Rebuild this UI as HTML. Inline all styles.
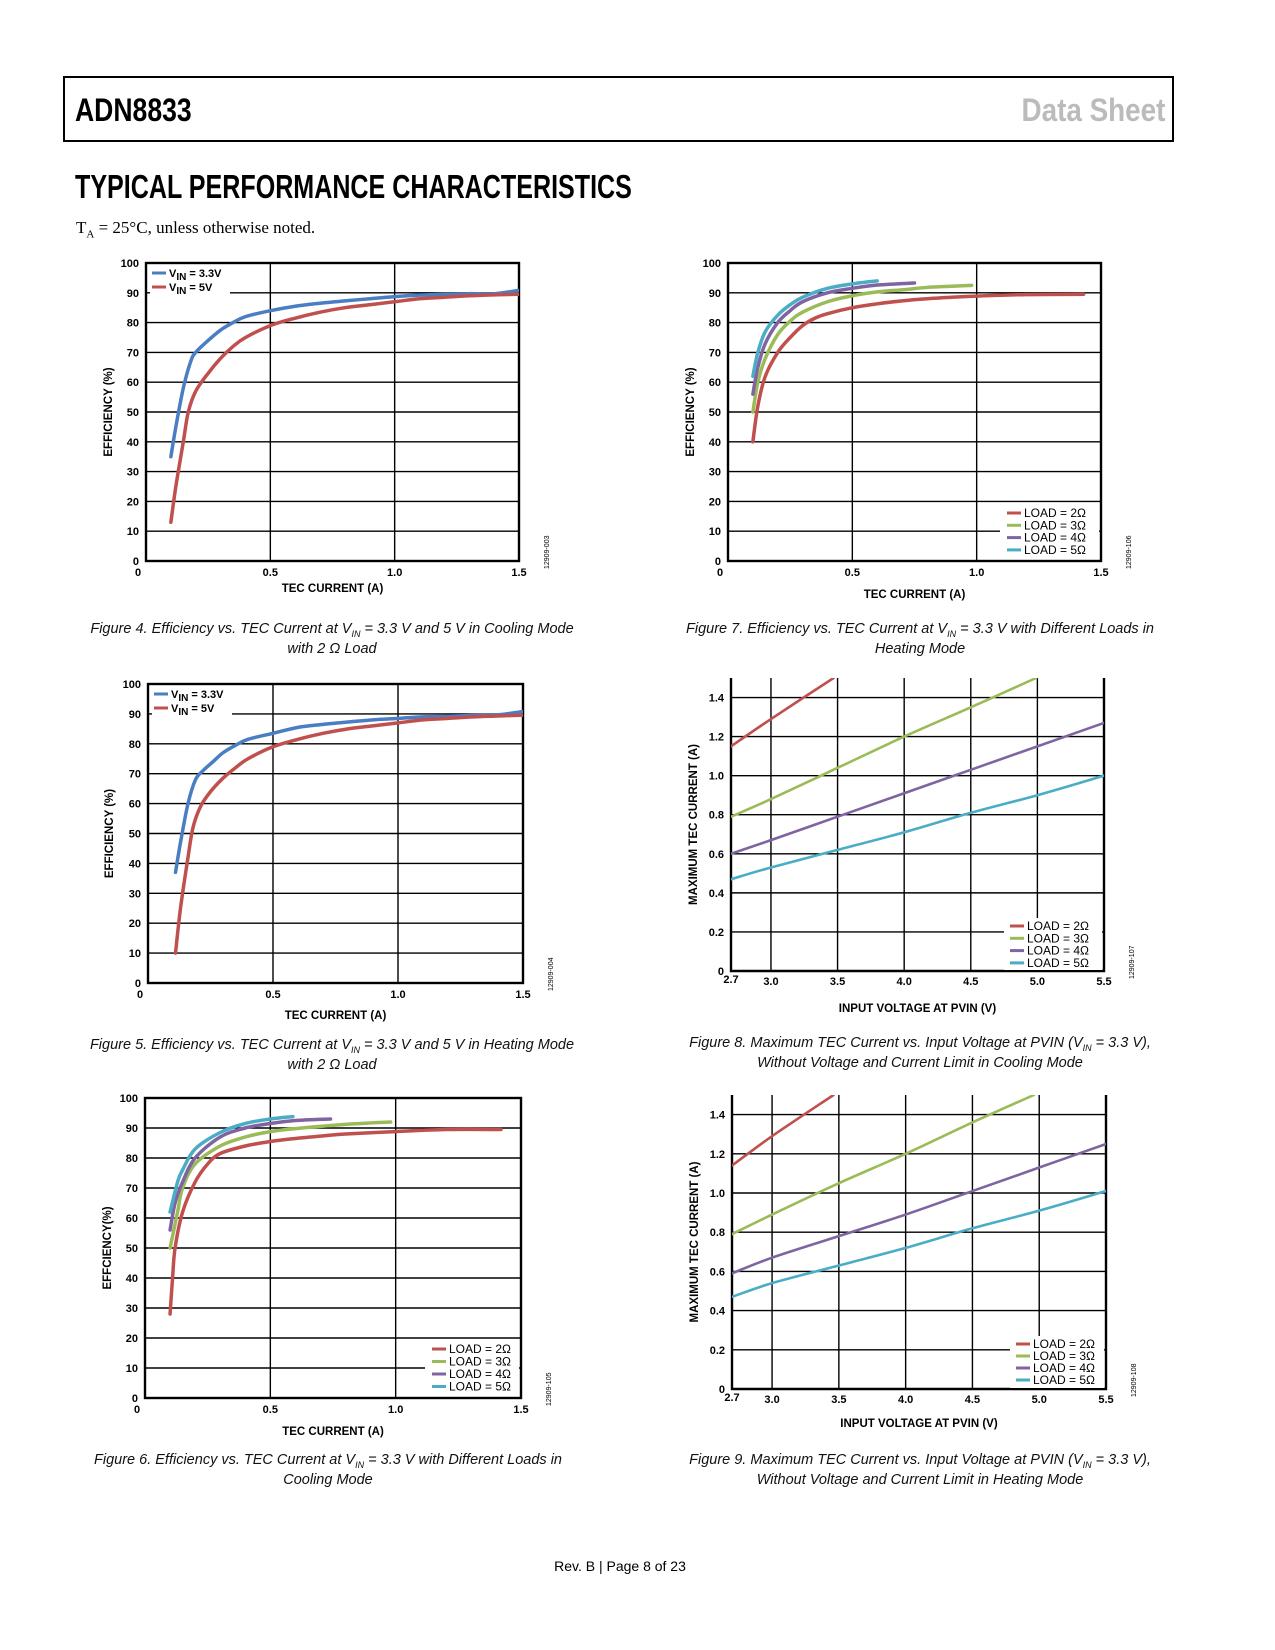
<!DOCTYPE html>
<html><head><meta charset="utf-8"><style>
body{margin:0;background:#fff;}
#page{position:relative;width:1275px;height:1650px;overflow:hidden;font-family:"Liberation Sans",sans-serif;}
.hdr{position:absolute;left:63px;top:76px;width:1111px;height:66px;border:2px solid #000;box-sizing:border-box;}
.narrow{font-family:"Liberation Sans Narrow","Liberation Sans",sans-serif;font-weight:bold;white-space:nowrap;}
.cap{position:absolute;font-family:"Liberation Sans",sans-serif;font-style:italic;font-size:14.5px;text-align:center;width:520px;line-height:20px;color:#111;}
sub{line-height:0;}
</style></head><body>
<div id="page">
<div class="hdr"></div>
<div class="narrow" style="position:absolute;left:75px;top:92px;font-size:32px;transform:scaleX(0.83);transform-origin:left top;">ADN8833</div>
<div class="narrow" style="position:absolute;right:110px;top:92px;font-size:32px;color:#bbb;transform:scaleX(0.87);transform-origin:right top;">Data Sheet</div>
<div class="narrow" style="position:absolute;left:75px;top:168px;font-size:33px;transform:scaleX(0.76);transform-origin:left top;">TYPICAL PERFORMANCE CHARACTERISTICS</div>
<div style="position:absolute;left:76px;top:218px;font-family:'Liberation Serif',serif;font-size:17px;">T<sub style="font-size:11px">A</sub> = 25°C, unless otherwise noted.</div>

<div class="cap" style="left:72px;top:619px;">Figure 4. Efficiency vs. TEC Current at V<sub style="font-size:9px">IN</sub> = 3.3 V and 5 V in Cooling Mode<br>with 2 Ω Load</div>
<div class="cap" style="left:72px;top:1035px;">Figure 5. Efficiency vs. TEC Current at V<sub style="font-size:9px">IN</sub> = 3.3 V and 5 V in Heating Mode<br>with 2 Ω Load</div>
<div class="cap" style="left:68px;top:1450px;">Figure 6. Efficiency vs. TEC Current at V<sub style="font-size:9px">IN</sub> = 3.3 V with Different Loads in<br>Cooling Mode</div>
<div class="cap" style="left:650px;top:619px;width:540px;">Figure 7. Efficiency vs. TEC Current at V<sub style="font-size:9px">IN</sub> = 3.3 V with Different Loads in<br>Heating Mode</div>
<div class="cap" style="left:650px;top:1033px;width:540px;">Figure 8. Maximum TEC Current vs. Input Voltage at PVIN (V<sub style="font-size:9px">IN</sub> = 3.3 V),<br>Without Voltage and Current Limit in Cooling Mode</div>
<div class="cap" style="left:650px;top:1450px;width:540px;">Figure 9. Maximum TEC Current vs. Input Voltage at PVIN (V<sub style="font-size:9px">IN</sub> = 3.3 V),<br>Without Voltage and Current Limit in Heating Mode</div>
<div style="position:absolute;left:0;width:1240px;text-align:center;top:1558px;font-size:14px;">Rev. B | Page 8 of 23</div>
<svg id="svg" width="1275" height="1650" style="position:absolute;left:0;top:0;"></svg>
</div>
<script>
// ---- data ----
const f4x_33=[0.1,0.12,0.15,0.18,0.2,0.25,0.3,0.35,0.4,0.5,0.6,0.7,0.8,0.9,1.0,1.1,1.2,1.3,1.4,1.5];
const f4y_33=[35,45,58,67,70,74,77.5,80,82,84,85.5,86.5,87.3,88,88.7,89.2,89.5,89.7,89.7,90.8];
const f4x_5=[0.1,0.12,0.15,0.17,0.2,0.25,0.3,0.35,0.4,0.5,0.6,0.7,0.8,0.9,1.0,1.1,1.2,1.3,1.4,1.5];
const f4y_5=[13,25,40,50,57,63,68,72,75,79,81.5,83.5,85,86,87,88,88.5,89,89.3,89.5];
const f5x_33=[0.11,0.13,0.16,0.19,0.22,0.26,0.3,0.35,0.4,0.5,0.6,0.7,0.8,0.9,1.0,1.1,1.2,1.3,1.4,1.5];
const f5y_33=[37,47,60,68,71,74,77,79.5,81.5,83.5,85.5,86.5,87.3,88,88.5,89,89.2,89.5,89.7,90.8];
const f5x_5=[0.11,0.13,0.16,0.18,0.21,0.25,0.3,0.35,0.4,0.5,0.6,0.7,0.8,0.9,1.0,1.1,1.2,1.3,1.4,1.5];
const f5y_5=[10,25,42,52,59,64,68.5,72,75,79,81.5,83.5,85,86,87,88,88.5,89,89.3,89.6];
const f6x_2=[0.1,0.11,0.12,0.15,0.2,0.25,0.3,0.4,0.5,0.6,0.7,0.8,1.0,1.2,1.42];
const f6y_2=[28,40,50,62,72,78,81.5,84,85.5,86.5,87.3,88,88.8,89.5,89.5];
const f6x_3=[0.1,0.13,0.15,0.2,0.3,0.4,0.5,0.6,0.8,0.98];
const f6y_3=[50,62,70,78,84,87,88.8,89.8,91.2,92];
const f6x_4=[0.1,0.12,0.15,0.2,0.3,0.4,0.5,0.6,0.74];
const f6y_4=[56,65,72,80,87,90,91.5,92.5,93];
const f6x_5=[0.1,0.13,0.15,0.2,0.3,0.4,0.5,0.59];
const f6y_5=[62,72,76,83,88.5,91.5,93,93.8];
const f7x_2=[0.1,0.12,0.15,0.2,0.25,0.3,0.35,0.4,0.5,0.6,0.7,0.8,0.9,1.0,1.2,1.43];
const f7y_2=[40,52,62,70,75,79,81.5,83,85,86.3,87.3,88,88.5,88.9,89.4,89.5];
const f7x_3=[0.1,0.12,0.15,0.2,0.25,0.3,0.4,0.5,0.6,0.7,0.8,0.9,0.98];
const f7y_3=[50,60,68,76,80.5,83.5,87,89,90.3,91,91.8,92.2,92.5];
const f7x_4=[0.1,0.12,0.15,0.2,0.25,0.3,0.4,0.5,0.6,0.75];
const f7y_4=[56,65,73,80,84,87,90,91.5,92.6,93.3];
const f7x_5=[0.1,0.12,0.15,0.2,0.25,0.3,0.4,0.5,0.6];
const f7y_5=[62,70,77,82.5,86,88.5,91.5,93,94];
const f8x_2=[2.7,3.0,3.47];
const f8y_2=[1.15,1.29,1.5];
const f8x_3=[2.7,3.0,3.5,4.0,4.5,4.99];
const f8y_3=[0.79,0.88,1.04,1.2,1.35,1.5];
const f8x_4=[2.7,3.0,3.5,4.0,4.5,5.0,5.5];
const f8y_4=[0.6,0.67,0.79,0.91,1.03,1.15,1.27];
const f8x_5=[2.7,3.0,3.5,4.0,4.5,5.0,5.5];
const f8y_5=[0.47,0.53,0.62,0.71,0.81,0.9,1.0];
const f9x_2=[2.7,3.0,3.46];
const f9y_2=[1.14,1.29,1.5];
const f9x_3=[2.7,3.0,3.5,4.0,4.5,4.96];
const f9y_3=[0.79,0.89,1.05,1.2,1.36,1.5];
const f9x_4=[2.7,3.0,3.5,4.0,4.5,5.0,5.5];
const f9y_4=[0.59,0.67,0.78,0.89,1.01,1.13,1.25];
const f9x_5=[2.7,3.0,3.5,4.0,4.5,5.0,5.5];
const f9y_5=[0.47,0.54,0.63,0.72,0.82,0.91,1.01];
const effTicks=[0,10,20,30,40,50,60,70,80,90,100];
const effLabels=["0","10","20","30","40","50","60","70","80","90","100"];
const curTicks=[0,0.5,1.0,1.5];
const curLabels=["0","0.5","1.0","1.5"];
const maxTicks=[0,0.2,0.4,0.6,0.8,1.0,1.2,1.4];
const maxLabels=["0","0.2","0.4","0.6","0.8","1.0","1.2","1.4"];
const vTicks=[2.7,3.0,3.5,4.0,4.5,5.0,5.5];
const vLabels=["2.7","3.0","3.5","4.0","4.5","5.0","5.5"];
const loadNames=["LOAD = 2Ω","LOAD = 3Ω","LOAD = 4Ω","LOAD = 5Ω"];
const C={blue:"#4a7ec2",red:"#c0504d",green:"#9bbb59",purple:"#8064a2",cyan:"#4bacc6"};

const svg=document.getElementById('svg');
const NS="http://www.w3.org/2000/svg";
function mk(tag,attrs,parent){const e=document.createElementNS(NS,tag);for(const k in attrs)e.setAttribute(k,attrs[k]);(parent||svg).appendChild(e);return e;}
function smooth(pts){let d="M"+pts[0][0]+","+pts[0][1];for(let i=0;i<pts.length-1;i++){const p0=pts[i-1]||pts[i],p1=pts[i],p2=pts[i+1],p3=pts[i+2]||p2;
d+=" C"+(p1[0]+(p2[0]-p0[0])/6)+","+(p1[1]+(p2[1]-p0[1])/6)+" "+(p2[0]-(p3[0]-p1[0])/6)+","+(p2[1]-(p3[1]-p1[1])/6)+" "+p2[0]+","+p2[1];}return d;}

function chart(c){
  const g=mk('g',{});
  
  
  const sx=v=>c.L+(v-c.xmin)/(c.xmax-c.xmin)*(c.R-c.L);
  const sy=v=>c.B-(v-c.ymin)/(c.ymax-c.ymin)*(c.B-c.T);
  const cp=mk('clipPath',{id:c.name+'-clip'},g);mk('rect',{x:c.L,y:c.T,width:c.R-c.L,height:c.B-c.T},cp);
  c.yt.forEach((v,i)=>{const l=mk('line',{x1:c.L,x2:c.R,y1:sy(v),y2:sy(v),stroke:'#000','stroke-width':1.4},g);
    
    const t=mk('text',{x:c.L-7,y:sy(v)+4,'text-anchor':'end','font-size':11,'font-weight':'bold','font-family':'Liberation Sans, sans-serif'},g);t.textContent=c.yl[i];
    });
  c.xt.forEach((v,i)=>{const l=mk('line',{x1:sx(v),x2:sx(v),y1:c.T,y2:c.B,stroke:'#000','stroke-width':1.4},g);
    
    const t=mk('text',{x:sx(v)+(i==0&&c.xmin==0?-8:0),y:c.B+(c.xmin==0?15:14)+(i==0&&c.xmin!=0?-2:0),'text-anchor':'middle','font-size':11,'font-weight':'bold','font-family':'Liberation Sans, sans-serif'},g);t.textContent=c.xl[i];
    });
  if(c.vframe){const f=mk('path',{d:`M${c.L},${c.T}V${c.B}H${c.R}V${c.T}`,fill:'none',stroke:'#000','stroke-width':2.4},g);}
  else{const f=mk('rect',{x:c.L,y:c.T,width:c.R-c.L,height:c.B-c.T,fill:'none',stroke:'#000','stroke-width':2.4},g);}
  const lg=c.leg;
  mk('rect',{x:lg.bx,y:lg.by,width:lg.bw,height:lg.bh,fill:'#fff'},g);
  c.series.forEach((s,i)=>{
    const pts=s.x.map((v,j)=>[sx(v),sy(s.y[j])]);
    const p=mk('path',{d:smooth(pts),fill:'none',stroke:s.c,'stroke-width':c.sw,'stroke-linecap':'round','clip-path':`url(#${c.name}-clip)`},g);
    
    const ly=lg.y+i*lg.dy;
    const ll=mk('line',{x1:lg.x,x2:lg.x+14,y1:ly,y2:ly,stroke:s.c,'stroke-width':3},g);
    
    const t=mk('text',{x:lg.x+17,y:ly+4,'font-size':lg.fs,'font-weight':lg.bold?'bold':'normal','font-family':'Liberation Sans, sans-serif'},g);
    
    if(s.lab2){t.innerHTML='V<tspan dy="3" font-size="'+(lg.fs-1)+'">IN</tspan><tspan dy="-3"> = '+s.lab2+'</tspan>';}else t.textContent=s.lab;
  });
  const yt=mk('text',{x:0,y:0,transform:`translate(${c.ytx},${(c.T+c.B)/2}) rotate(-90)`,'text-anchor':'middle','font-size':11.5,'font-weight':'bold','font-family':'Liberation Sans, sans-serif'},g);yt.textContent=c.ytitle;
  
  const xt=mk('text',{x:(c.L+c.R)/2,y:c.xty,'text-anchor':'middle','font-size':11.5,'font-weight':'bold','font-family':'Liberation Sans, sans-serif'},g);xt.textContent=c.xtitle;
  
  const cd=mk('text',{x:0,y:0,transform:`translate(${c.R+30},${c.B+8}) rotate(-90)`,'font-size':7,'font-family':'Liberation Sans, sans-serif'},g);cd.textContent=c.code;
  
}
const eff={xmin:0,xmax:1.5,ymin:0,ymax:100,xt:curTicks,xl:curLabels,yt:effTicks,yl:effLabels,xtitle:'TEC CURRENT (A)',sw:3.5};
const mx={xmin:2.7,xmax:5.5,ymin:0,ymax:1.5,xt:vTicks,xl:vLabels,yt:maxTicks,yl:maxLabels,xtitle:'INPUT VOLTAGE AT PVIN (V)',ytitle:'MAXIMUM TEC CURRENT (A)',sw:2.6,vframe:true};
function vin(bx,by,x,y){return {bx:bx,by:by,bw:80,bh:30,x:x,y:y,dy:14,fs:11,bold:true};}
chart(Object.assign({},eff,{name:'figure4-chart',L:146,R:519,T:263,B:561,ytitle:'EFFICIENCY (%)',ytx:112,xty:592,code:'12909-003',
  leg:vin(150,266,152,273),series:[{x:f4x_33,y:f4y_33,c:C.blue,n:'vin-3v3',lab2:'3.3V'},{x:f4x_5,y:f4y_5,c:C.red,n:'vin-5v',lab2:'5V'}]}));
chart(Object.assign({},eff,{name:'figure5-chart',L:148,R:523,T:684,B:983,ytitle:'EFFICIENCY (%)',ytx:113,xty:1019,code:'12909-004',
  leg:vin(152,687,154,694),series:[{x:f5x_33,y:f5y_33,c:C.blue,n:'vin-3v3',lab2:'3.3V'},{x:f5x_5,y:f5y_5,c:C.red,n:'vin-5v',lab2:'5V'}]}));
chart(Object.assign({},eff,{name:'figure6-chart',L:145,R:521,T:1098,B:1398,ytitle:'EFFCIENCY(%)',ytx:111,xty:1435,code:'12909-105',
  leg:{bx:425,by:1341,bw:94,bh:55,x:432,y:1349,dy:12.5,fs:12,bold:false},
  series:[{x:f6x_2,y:f6y_2,c:C.red,n:'load-2ohm',lab:loadNames[0]},{x:f6x_3,y:f6y_3,c:C.green,n:'load-3ohm',lab:loadNames[1]},{x:f6x_4,y:f6y_4,c:C.purple,n:'load-4ohm',lab:loadNames[2]},{x:f6x_5,y:f6y_5,c:C.cyan,n:'load-5ohm',lab:loadNames[3]}]}));
chart(Object.assign({},eff,{name:'figure7-chart',L:728,R:1101,T:263,B:561,ytitle:'EFFICIENCY (%)',ytx:694,xty:598,code:'12909-106',
  leg:{bx:1000,by:505,bw:99,bh:54,x:1007,y:513,dy:12.3,fs:12,bold:false},
  series:[{x:f7x_2,y:f7y_2,c:C.red,n:'load-2ohm',lab:loadNames[0]},{x:f7x_3,y:f7y_3,c:C.green,n:'load-3ohm',lab:loadNames[1]},{x:f7x_4,y:f7y_4,c:C.purple,n:'load-4ohm',lab:loadNames[2]},{x:f7x_5,y:f7y_5,c:C.cyan,n:'load-5ohm',lab:loadNames[3]}]}));
chart(Object.assign({},mx,{name:'figure8-chart',L:731,R:1104,T:678,B:971,ytx:697,xty:1012,code:'12909-107',
  leg:{bx:1004,by:918,bw:98,bh:52,x:1010,y:926,dy:12.3,fs:12,bold:false},
  series:[{x:f8x_2,y:f8y_2,c:C.red,n:'load-2ohm',lab:loadNames[0]},{x:f8x_3,y:f8y_3,c:C.green,n:'load-3ohm',lab:loadNames[1]},{x:f8x_4,y:f8y_4,c:C.purple,n:'load-4ohm',lab:loadNames[2]},{x:f8x_5,y:f8y_5,c:C.cyan,n:'load-5ohm',lab:loadNames[3]}]}));
chart(Object.assign({},mx,{name:'figure9-chart',L:732,R:1106,T:1095,B:1389,ytx:698,xty:1427,code:'12909-108',
  leg:{bx:1010,by:1336,bw:94,bh:52,x:1016,y:1344,dy:12,fs:12,bold:false},
  series:[{x:f9x_2,y:f9y_2,c:C.red,n:'load-2ohm',lab:loadNames[0]},{x:f9x_3,y:f9y_3,c:C.green,n:'load-3ohm',lab:loadNames[1]},{x:f9x_4,y:f9y_4,c:C.purple,n:'load-4ohm',lab:loadNames[2]},{x:f9x_5,y:f9y_5,c:C.cyan,n:'load-5ohm',lab:loadNames[3]}]}));
</script>
</body></html>
